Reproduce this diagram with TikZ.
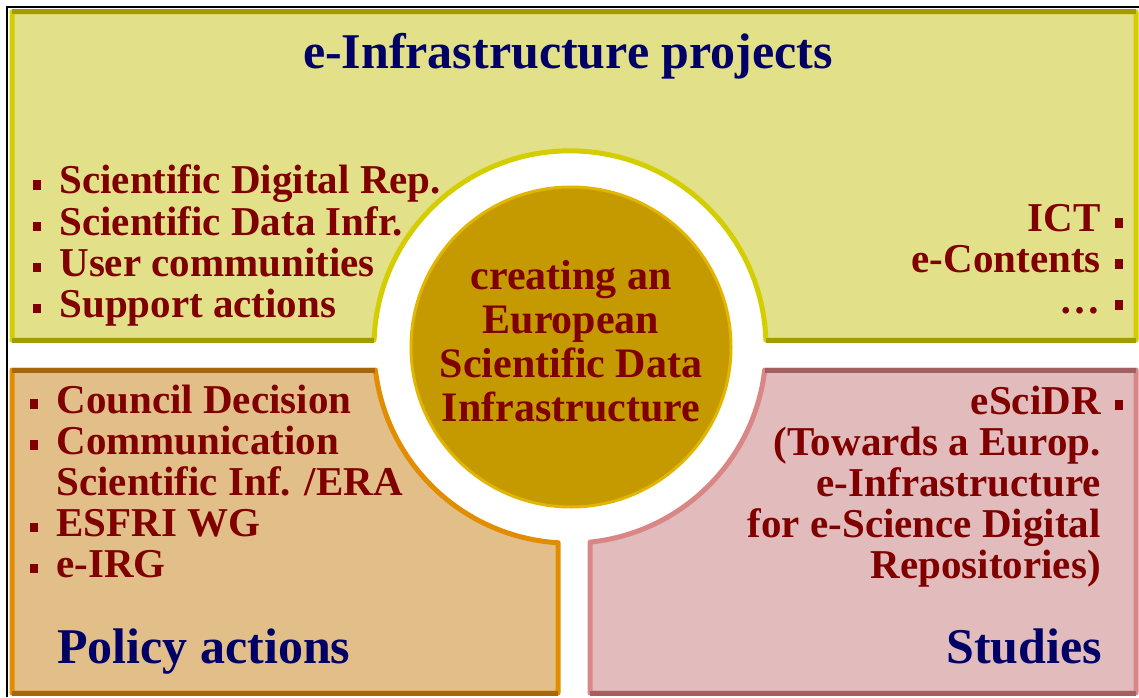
\documentclass[tikz,border=0pt]{standalone}
\usepackage{fontspec}
\setmainfont{Liberation Serif}

\definecolor{ylwfill}{RGB}{226,224,136}
\definecolor{ylwlight}{RGB}{212,206,0}
\definecolor{ylwdark}{RGB}{162,156,0}
\definecolor{orgfill}{RGB}{226,190,136}
\definecolor{orglight}{RGB}{226,140,0}
\definecolor{orgdark}{RGB}{166,102,12}
\definecolor{pnkfill}{RGB}{226,188,188}
\definecolor{pnklight}{RGB}{216,134,134}
\definecolor{pnkdark}{RGB}{164,96,96}
\definecolor{goldfill}{RGB}{196,154,0}
\definecolor{goldlight}{RGB}{226,182,0}
\definecolor{txtred}{RGB}{128,0,0}
\definecolor{txtnavy}{RGB}{0,0,102}

\newcommand\bodyfont{\fontsize{41}{41}\selectfont\bfseries}
\newcommand\hubfont{\fontsize{42}{44}\selectfont\bfseries}
\newcommand\headfont{\fontsize{50}{50}\selectfont\bfseries}
\newcommand\sqb{\rule[0.1em]{0.19em}{0.23em}}

\tikzstyle{panel} = [line width=5pt,line join=round]
\tikzstyle{rim} = [line width=5pt,line cap=butt]
\tikzstyle{items} = [inner sep=0pt,text=txtred,font=\bodyfont]
\tikzstyle{heading} = [inner sep=0pt,text=txtnavy,font=\headfont]
\tikzstyle{core} = [circle,inner sep=0pt,minimum size=320pt,fill=goldfill,draw=goldlight,line width=3pt,text=txtred,font=\hubfont]

\begin{document}
\begin{tikzpicture}[x=1pt,y=1pt]
	\useasboundingbox (0,0) rectangle (1139,697);
	\draw[line width=2pt] (7,0) -- (7,689.5) -- (1139,689.5);
	
	\draw[panel,fill=ylwfill,draw=ylwlight] (12,357) -- (374.1,357) arc[start angle=178,end angle=2,radius=196] -- (1136,357) -- (1136,685) -- (12,685) -- cycle;
	\draw[rim,ylwdark] (12,685) -- (1136,685);
	\draw[rim,ylwdark] (12,357) -- (374.1,357);
	\draw[rim,ylwdark] (765.9,357) -- (1136,357);
	
	\draw[panel,fill=orgfill,draw=orglight] (12,4) -- (12,327) -- (375.4,327) arc[start angle=186.7,end angle=266.5,radius=196] -- (558,4) -- cycle;
	\draw[rim,orgdark] (12,327) -- (375.4,327);
	\draw[rim,orgdark] (12,4) -- (558,4);
	
	\draw[panel,fill=pnkfill,draw=pnklight] (1136,4) -- (1136,327) -- (764.7,327) arc[start angle=-6.7,end angle=-84.1,radius=196] -- (590,4) -- cycle;
	\draw[rim,pnkdark] (764.7,327) -- (1136,327);
	\draw[rim,pnkdark] (590,4) -- (1136,4);
	
	\node[core] (hub) at (571,350) {\begin{tabular}{@{}c@{}}creating an\\European\\Scientific Data\\Infrastructure\end{tabular}};
	
	\node[heading,anchor=base] (projt) at (568,628) {e-Infrastructure projects};
	\node[items,anchor=base west] (projl) at (33,503) {\begin{tabular}[t]{@{}l@{\hspace{0.45em}}l@{}}\sqb & Scientific Digital Rep.\\\sqb & Scientific Data Infr.\\\sqb & User communities\\\sqb & Support actions\end{tabular}};
	\node[items,anchor=base east] (projr) at (1123,465) {\begin{tabular}[t]{@{}r@{\hspace{0.35em}}l@{}}ICT & \sqb\\e-Contents & \sqb\\\dots & \sqb\end{tabular}};
	
	\node[items,anchor=base west] (policy) at (30,284) {\begin{tabular}[t]{@{}l@{\hspace{0.45em}}l@{}}\sqb & Council Decision\\\sqb & Communication\\ & Scientific Inf. /ERA\\\sqb & ESFRI WG\\\sqb & e-IRG\end{tabular}};
	\node[heading,anchor=base west] (policyt) at (57,34) {Policy actions};
	
	\node[items,anchor=base east] (studies) at (1123,283) {\begin{tabular}[t]{@{}r@{\hspace{0.35em}}l@{}}eSciDR & \sqb\\(Towards a Europ. & \\e-Infrastructure & \\for e-Science Digital & \\Repositories) & \end{tabular}};
	\node[heading,anchor=base east] (studiest) at (1102,34) {Studies};
\end{tikzpicture}
\end{document}
